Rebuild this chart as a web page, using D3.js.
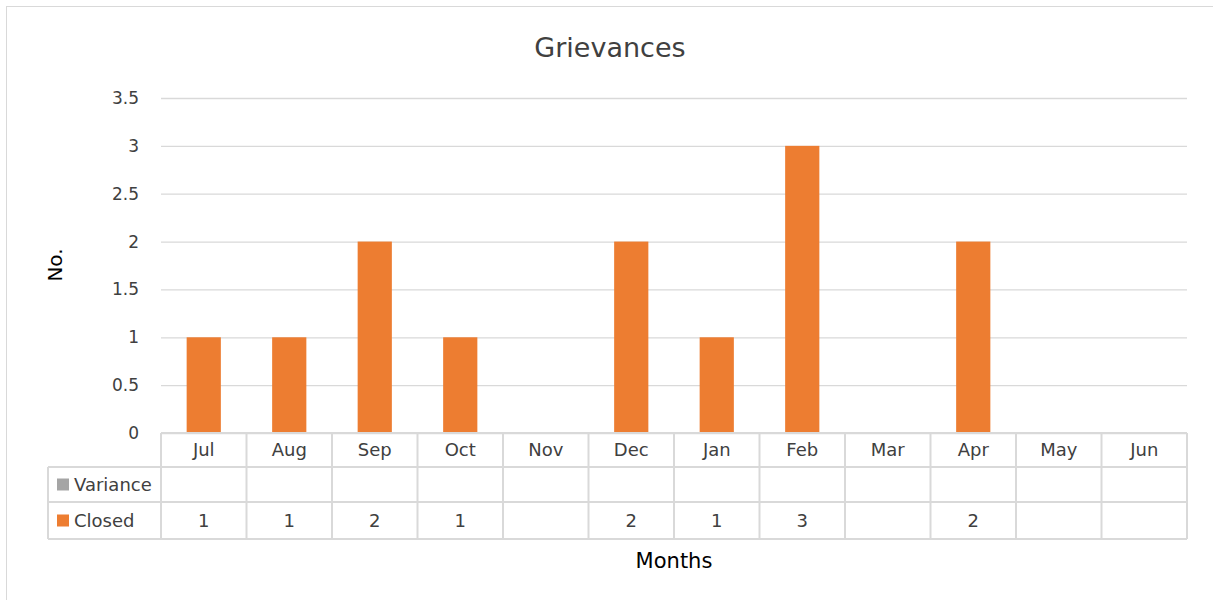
<!DOCTYPE html>
<html>
<head>
<meta charset="utf-8">
<script src="https://d3js.org/d3.v7.min.js"></script>
<style>
  body { margin: 0; background: #fff; }
  text { font-family: "DejaVu Sans", "Open Sans", sans-serif; fill: #404040; }
</style>
</head>
<body>
<div id="chart"></div>
<script>
// data
const months = ["Jul", "Aug", "Sep", "Oct", "Nov", "Dec", "Jan", "Feb", "Mar", "Apr", "May", "Jun"]
const closed = [1, 1, 2, 1, null, 2, 1, 3, null, 2, null, null]
const variance = [null, null, null, null, null, null, null, null, null, null, null, null]
const yTicks = [0, 0.5, 1, 1.5, 2, 2.5, 3, 3.5]

const width = 1213
const height = 600
const margin = { top: 98, right: 26, bottom: 167, left: 161 }

const svg = d3.select("#chart")
    .append("svg")
    .attr("width", width)
    .attr("height", height)

// chart border
svg.append("rect")
    .attr("x", 6.5).attr("y", 6.5)
    .attr("width", width - 6).attr("height", height)
    .attr("fill", "white")
    .attr("stroke", "#d9d9d9")

const x = d3.scaleBand()
    .domain(months)
    .range([margin.left, width - margin.right])
    .padding(0)

const y = d3.scaleLinear()
    .domain([0, 3.5])
    .range([height - margin.bottom, margin.top])

// gridlines + y labels
const yAxis = g => g.attr("transform", `translate(${margin.left},0)`)
    .call(d3.axisLeft(y).tickValues(yTicks).tickSize(-(width - margin.right - margin.left)).tickPadding(22).tickFormat(d3.format("")))
    .call(g => g.select(".domain").remove())
    .call(g => g.selectAll(".tick line").attr("stroke", "#d9d9d9").attr("stroke-width", 1.3))
    .call(g => g.selectAll(".tick text").attr("font-size", 17).attr("fill", "#404040")
        .style("font-family", "'DejaVu Sans', sans-serif"))

svg.append("g").call(yAxis)

// bars
const barW = x.bandwidth() * 0.4
svg.append("g")
    .selectAll("rect")
    .data(months.map((m, i) => ({ m, v: closed[i] })).filter(d => d.v != null))
    .enter().append("rect")
    .attr("x", d => x(d.m) + (x.bandwidth() - barW) / 2)
    .attr("y", d => y(d.v))
    .attr("width", barW)
    .attr("height", d => y(0) - y(d.v))
    .attr("fill", "#ed7d31")

// data table
const rowH = [34, 35, 37]
const top0 = y(0)
const rowY = [top0, top0 + rowH[0], top0 + rowH[0] + rowH[1], top0 + rowH[0] + rowH[1] + rowH[2]]
const tableLeft = 48
const right = width - margin.right
const grid = svg.append("g").attr("stroke", "#d9d9d9").attr("stroke-width", 2)

// horizontal lines
grid.append("line").attr("x1", margin.left).attr("x2", right).attr("y1", rowY[0]).attr("y2", rowY[0])
for (let r = 1; r < 4; r++) {
    grid.append("line").attr("x1", tableLeft).attr("x2", right).attr("y1", rowY[r]).attr("y2", rowY[r])
}
// vertical lines
grid.append("line").attr("x1", tableLeft).attr("x2", tableLeft).attr("y1", rowY[1]).attr("y2", rowY[3])
months.forEach(m => {
    grid.append("line").attr("x1", x(m)).attr("x2", x(m)).attr("y1", rowY[0]).attr("y2", rowY[3])
})
grid.append("line").attr("x1", right).attr("x2", right).attr("y1", rowY[0]).attr("y2", rowY[3])

// month labels
svg.append("g").selectAll("text")
    .data(months)
    .enter().append("text")
    .attr("x", d => x(d) + x.bandwidth() / 2)
    .attr("y", (rowY[0] + rowY[1]) / 2 + 6)
    .attr("text-anchor", "middle")
    .attr("font-size", 18)
    .text(d => d)

// series rows
const series = [
    { name: "Variance", color: "#a5a5a5", values: variance },
    { name: "Closed", color: "#ed7d31", values: closed }
]
series.forEach((s, i) => {
    const cy = (rowY[i + 1] + rowY[i + 2]) / 2
    svg.append("rect")
        .attr("x", 57).attr("y", cy - 6)
        .attr("width", 12).attr("height", 12)
        .attr("fill", s.color)
    svg.append("text")
        .attr("x", 74).attr("y", cy + 6)
        .attr("font-size", 18)
        .text(s.name)
    svg.append("g").selectAll("text")
        .data(months.map((m, j) => ({ m, v: s.values[j] })).filter(d => d.v != null))
        .enter().append("text")
        .attr("x", d => x(d.m) + x.bandwidth() / 2)
        .attr("y", cy + 6)
        .attr("text-anchor", "middle")
        .attr("font-size", 18)
        .text(d => d.v)
})

// titles
svg.append("text")
    .attr("x", 610).attr("y", 57)
    .attr("text-anchor", "middle")
    .attr("font-size", 27)
    .text("Grievances")

svg.append("text")
    .attr("x", 674).attr("y", 568)
    .attr("text-anchor", "middle")
    .attr("font-size", 21)
    .style("fill", "#000")
    .text("Months")

svg.append("text")
    .attr("transform", "translate(62,265) rotate(-90)")
    .attr("text-anchor", "middle")
    .attr("font-size", 20)
    .style("fill", "#000")
    .text("No.")
</script>
</body>
</html>
